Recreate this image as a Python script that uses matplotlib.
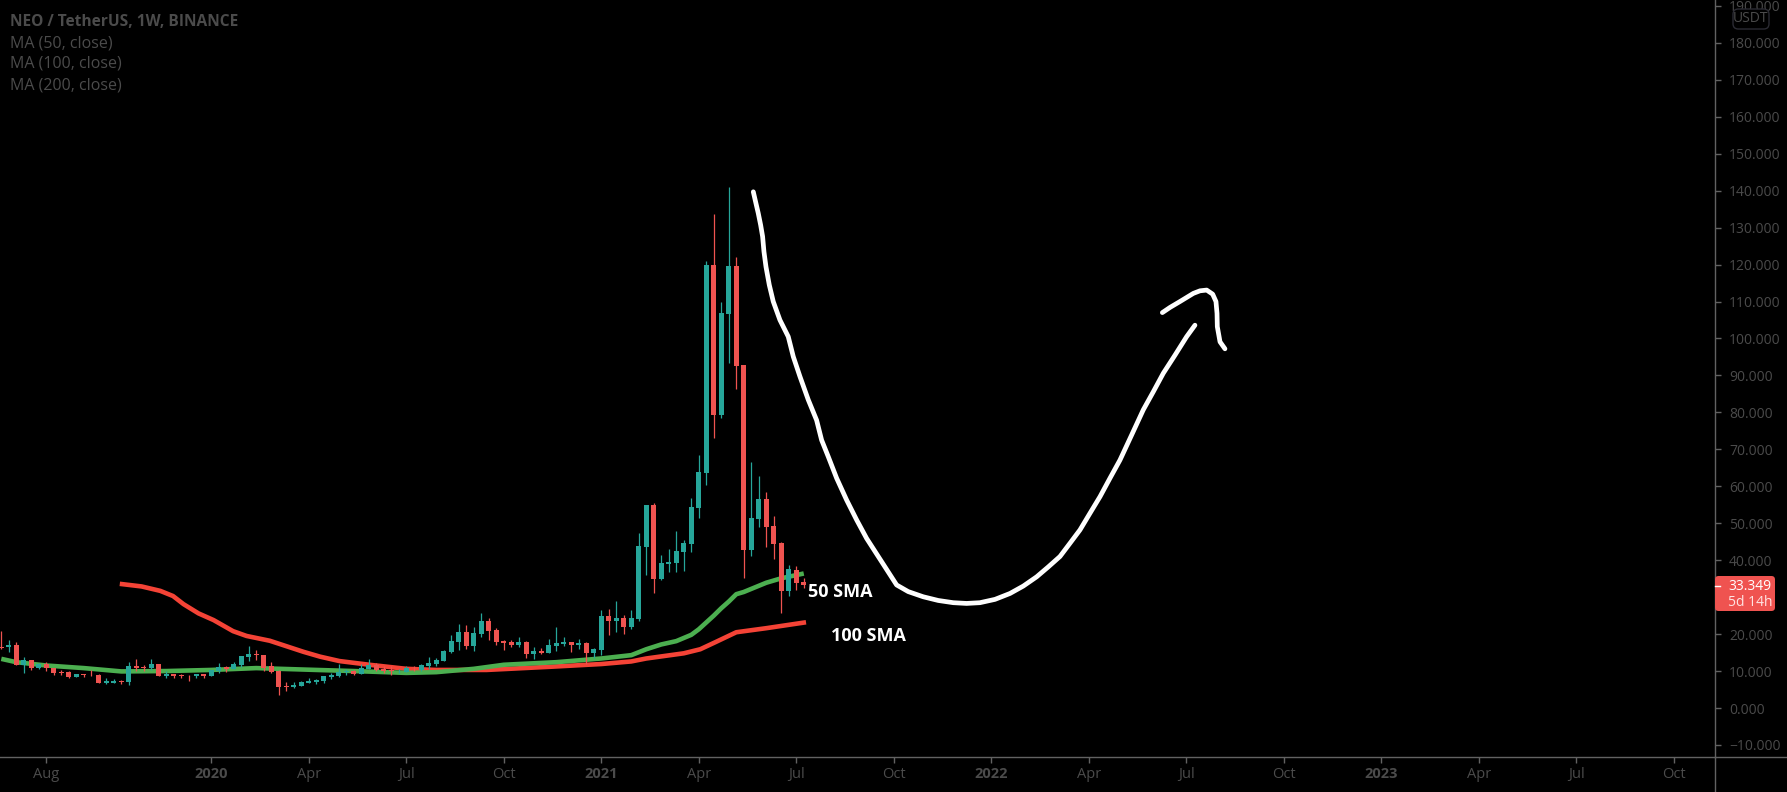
#!/usr/bin/env python3
"""Weekly NEO/USDT candles with two moving averages and a hand-drawn forecast."""
import matplotlib
matplotlib.use("Agg")
import matplotlib.pyplot as plt
import numpy as np
from matplotlib.lines import Line2D
from matplotlib.patches import FancyBboxPatch

# one entry per weekly candle
opens = [
    16.6, 16.5, 17.1, 11.7, 12.9, 10.8, 11.9, 10.9, 9.8, 9.7, 8.4, 9.1, 8.9, 8.9, 6.9, 6.9, 7.4, 7.0,
    11.4, 11.2, 10.8, 11.9, 8.7, 9.2, 9.0, 8.9, 8.7, 9.2, 8.7, 9.9, 11.1, 10.6, 11.6, 13.9, 14.7, 14.3,
    11.4, 10.0, 6.0, 5.7, 6.0, 6.9, 7.0, 7.3, 8.4, 8.7, 9.7, 10.0, 9.3, 10.6, 11.6, 10.6, 10.3, 9.9,
    9.8, 10.9, 10.3, 11.4, 11.9, 12.7, 15.2, 17.9, 20.6, 16.8, 20.0, 23.5, 21.1, 18.1, 17.9, 17.0, 17.9, 14.6,
    15.4, 14.9, 16.8, 17.3, 17.9, 17.0, 17.6, 14.9, 15.7, 24.9, 23.5, 24.4, 21.9, 24.1, 43.6, 54.9, 34.9, 39.0,
    39.2, 42.2, 44.4, 54.1, 63.6, 119.9, 79.3, 106.7, 119.6, 92.8, 42.8, 51.1, 56.6, 49.2, 44.6, 31.7, 37.3, 34.1,
]
highs = [
    20.8, 18.4, 17.9, 13.8, 12.9, 12.1, 12.4, 10.9, 10.3, 10.0, 9.1, 9.1, 10.3, 9.2, 8.0, 7.8, 7.7, 12.4,
    13.3, 11.6, 13.2, 11.9, 10.0, 9.2, 9.3, 8.9, 9.2, 9.2, 10.4, 12.2, 11.4, 12.4, 14.1, 16.8, 15.7, 14.3,
    12.4, 10.3, 7.0, 7.0, 7.3, 8.1, 7.9, 8.7, 9.4, 11.9, 10.6, 10.3, 11.9, 13.3, 12.2, 11.4, 11.4, 10.5,
    11.4, 11.4, 11.9, 13.8, 13.5, 15.7, 19.8, 22.7, 22.5, 21.9, 25.7, 24.4, 21.6, 18.4, 18.4, 19.2, 18.1, 16.5,
    16.2, 18.7, 21.9, 19.2, 17.9, 18.7, 17.9, 16.2, 26.5, 26.8, 29.0, 25.2, 26.5, 47.4, 54.9, 55.5, 41.4, 43.0,
    47.9, 45.5, 56.8, 68.5, 121.0, 133.7, 109.9, 141.0, 122.1, 92.8, 66.6, 62.8, 58.4, 52.0, 44.9, 38.7, 38.4, 35.2,
]
lows = [
    16.0, 15.2, 11.7, 9.6, 10.3, 10.6, 10.0, 9.0, 8.9, 8.1, 8.4, 8.4, 8.7, 6.7, 6.5, 6.7, 6.6, 6.2,
    9.9, 10.0, 10.2, 8.7, 8.2, 8.2, 8.2, 7.3, 8.1, 8.1, 8.7, 9.5, 9.8, 10.5, 11.1, 12.7, 13.0, 10.1,
    9.6, 3.5, 4.6, 5.4, 6.0, 6.7, 6.6, 6.9, 7.9, 8.4, 8.9, 8.9, 9.2, 10.5, 10.0, 9.6, 8.9, 9.4,
    9.7, 9.9, 9.9, 10.5, 11.5, 12.7, 14.9, 15.7, 16.0, 15.4, 19.2, 18.4, 17.0, 15.7, 16.5, 16.5, 13.5, 13.3,
    14.6, 14.8, 15.4, 16.8, 15.2, 16.1, 11.9, 13.5, 14.3, 19.8, 20.6, 20.0, 21.4, 23.5, 36.0, 31.1, 34.6, 36.8,
    36.8, 37.1, 42.2, 51.4, 60.3, 73.2, 78.6, 93.4, 86.4, 35.3, 41.1, 49.0, 43.6, 40.3, 25.7, 30.3, 31.9, 32.5,
]
closes = [
    16.3, 17.1, 11.7, 12.9, 10.8, 11.9, 10.9, 9.6, 9.6, 8.4, 9.1, 8.8, 8.8, 6.9, 7.2, 7.4, 7.1, 11.4,
    10.9, 10.9, 11.9, 8.7, 9.2, 8.7, 8.7, 8.8, 9.2, 8.7, 10.4, 11.0, 10.6, 11.9, 14.1, 14.6, 14.3, 10.8,
    9.7, 5.7, 5.7, 6.2, 7.0, 7.3, 7.7, 8.7, 8.9, 9.7, 10.1, 9.3, 10.8, 11.6, 10.3, 9.9, 10.0, 10.0,
    10.9, 10.7, 11.6, 12.2, 13.0, 15.4, 18.1, 20.6, 16.8, 20.3, 23.5, 20.8, 17.9, 17.6, 17.0, 17.9, 14.6, 15.4,
    14.9, 17.0, 17.6, 17.9, 17.0, 17.6, 14.9, 16.0, 24.9, 23.5, 24.4, 21.9, 24.4, 43.8, 54.9, 34.9, 39.2, 39.5,
    42.5, 44.6, 54.4, 63.9, 119.9, 79.3, 106.9, 119.6, 92.6, 42.8, 51.4, 56.6, 49.0, 44.4, 31.7, 37.6, 33.8, 33.3,
]

sma50_weeks = [0, 2, 6, 11, 16, 22, 28, 34, 42, 47, 54, 58, 63, 67, 74, 80, 84, 86, 88, 90, 92, 93, 95, 96, 97, 98, 99, 102, 104, 107]
sma50_vals = [13.3, 12.4, 11.5, 10.8, 9.9, 10.0, 10.3, 10.8, 10.3, 10.0, 9.5, 9.7, 10.6, 11.7, 12.4, 13.4, 14.3, 15.9, 17.2, 18.1, 19.8, 21.3, 25.0, 27.0, 28.8, 30.8, 31.4, 33.9, 35.1, 36.4]
sma100_weeks = [15.8, 18.7, 21.2, 22.9, 24.3, 26.3, 28.3, 30.9, 32.7, 35.8, 38.5, 40.3, 42.5, 45.1, 49.1, 54, 58, 64.7, 73.6, 80, 84, 86, 91, 93.2, 95.2, 98, 102, 107.3]
sma100_vals = [33.6, 32.9, 31.7, 30.3, 28.1, 25.6, 23.8, 20.8, 19.5, 18.2, 16.4, 15.2, 13.9, 12.7, 11.7, 10.6, 10.3, 10.3, 11.2, 11.9, 12.6, 13.4, 14.8, 15.9, 17.8, 20.5, 21.6, 23.2]

# the white hand-drawn forecast
path_weeks = [
    100.27, 100.62, 100.93, 101.25, 101.51, 101.69, 101.96, 102.4, 102.93, 103.82, 104.93, 105.6, 106.49, 107.6, 108.71,
    109.38, 110.27, 111.38, 112.71, 114.05, 115.38, 117.38, 119.38, 120.93, 122.93, 124.93, 126.93, 128.71, 130.49,
    132.5, 134.5, 136.27, 138.05, 139.61, 141.16, 142.5, 143.83, 145.16, 146.5, 147.83, 149.16, 150.72, 152.27, 153.61,
    154.94, 156.5, 158.05, 159.16,
]
path_vals = [
    139.7, 136.6, 133.9, 130.7, 127.6, 123.5, 119.4, 114.5, 110.0, 105.0, 100.5, 95.1, 89.7, 83.4, 77.9,
    72.5, 68.0, 62.2, 56.3, 50.9, 45.9, 39.6, 33.3, 31.5, 30.1, 29.1, 28.5, 28.3, 28.5,
    29.4, 31.0, 33.0, 35.5, 38.2, 41.0, 44.6, 48.2, 52.7, 57.2, 62.2, 67.1, 73.9, 80.7, 85.6,
    90.6, 95.5, 100.5, 103.6,
]
arrow_weeks = [154.81, 155.83, 157.16, 158.94, 159.83, 160.72, 161.52, 161.96, 162.1, 162.14, 162.5, 163.16]
arrow_vals = [107.0, 108.4, 110.0, 112.2, 112.9, 113.1, 112.0, 110.0, 106.8, 103.2, 99.1, 97.2]

x_tick_weeks = [6, 28, 41, 54, 67, 80, 93, 106, 119, 132, 145, 158, 171, 184, 197, 210, 223]
x_tick_labels = ["Aug", "2020", "Apr", "Jul", "Oct", "2021", "Apr", "Jul", "Oct", "2022", "Apr", "Jul", "Oct", "2023", "Apr", "Jul", "Oct"]
y_ticks = list(range(-10, 200, 10))
last_price = 33.349

W, H = 1787, 792
AXIS_X, AXIS_Y = 1715, 757
UP, DOWN = "#26a69a", "#ef5350"
TEXT = "#4b4b4b"
LINE = "#626262"

plt.rcParams["font.family"] = ["Open Sans", "DejaVu Sans"]

fig = plt.figure(figsize=(W / 100, H / 100), dpi=100, facecolor="black")
ax = fig.add_axes([0, 1 - AXIS_Y / H, AXIS_X / W, AXIS_Y / H], facecolor="black")
ax.set_xlim(-0.173, 228.5)
ax.set_ylim(-13.26, 191.6)

o, h, l, c = map(np.array, (opens, highs, lows, closes))
weeks = np.arange(len(o))
colors = np.where(c >= o, UP, DOWN)

ax.plot(sma100_weeks, sma100_vals, color="#f44336", lw=3.3, zorder=2, solid_capstyle="butt")
ax.plot(sma50_weeks, sma50_vals, color="#4caf50", lw=3.3, zorder=3, solid_capstyle="butt")
ax.vlines(weeks, l, h, colors=colors, lw=0.9, zorder=4)
ax.bar(weeks, np.abs(c - o), bottom=np.minimum(o, c), width=0.68, color=colors, lw=0, zorder=5)

ax.plot(path_weeks, path_vals, color="white", lw=3.4, zorder=6, solid_capstyle="round", solid_joinstyle="round")
ax.plot(arrow_weeks, arrow_vals, color="white", lw=3.4, zorder=6, solid_capstyle="round", solid_joinstyle="round")

ax.text(107.6, 31.4, "50 SMA", color="white", fontsize=13, fontweight="bold", va="center", zorder=7)
ax.text(110.6, 19.5, "100 SMA", color="white", fontsize=13, fontweight="bold", va="center", zorder=7)

for side in ("top", "left"):
    ax.spines[side].set_visible(False)
for side in ("right", "bottom"):
    ax.spines[side].set_color(LINE)
    ax.spines[side].set_linewidth(1)

ax.yaxis.tick_right()
ax.set_yticks(y_ticks)
# 30.000 sits under the last price box, so it never shows
ax.set_yticklabels(["" if v == 30 else f"{v:.3f}".replace("-", "\u2212") for v in y_ticks])
ax.tick_params(axis="y", colors=LINE, labelcolor=TEXT, length=4, width=1, pad=6, labelsize=10)
ax.set_xticks(x_tick_weeks)
ax.set_xticklabels(x_tick_labels)
ax.tick_params(axis="x", colors=LINE, labelcolor=TEXT, length=4, width=1, pad=3.5, labelsize=10.5)
for label in ax.get_xticklabels():
    if label.get_text().isdigit():
        label.set_fontweight("bold")

# axis lines carry on past the plot area to the edge of the picture
fig.add_artist(Line2D([AXIS_X / W, 1], [1 - AXIS_Y / H] * 2, color=LINE, lw=1))
fig.add_artist(Line2D([AXIS_X / W] * 2, [0, 1 - AXIS_Y / H], color=LINE, lw=1))

# legend block
ax.text(10 / AXIS_X, 1 - 22 / AXIS_Y, "NEO / TetherUS, 1W, BINANCE", transform=ax.transAxes, color=TEXT, fontsize=11.2, fontweight="bold", va="center")
for row, name in zip((43, 64, 85), ("MA (50, close)", "MA (100, close)", "MA (200, close)")):
    ax.text(10 / AXIS_X, 1 - row / AXIS_Y, name, transform=ax.transAxes, color=TEXT, fontsize=11.5, va="center")

# currency badge on the price scale
fig.add_artist(FancyBboxPatch((1733 / W, 1 - 29 / H), 36 / W, 20 / H, boxstyle="round,pad=0,rounding_size=0.003",
                              mutation_aspect=W / H, transform=fig.transFigure, fc="black", ec="#2b2b33", lw=1, zorder=8))
fig.text(1751 / W, 1 - 19 / H, "USDT", color=TEXT, fontsize=10, ha="center", va="center", zorder=9)

# last price box
fig.add_artist(FancyBboxPatch((AXIS_X / W, 1 - 611 / H), 60 / W, 35 / H, boxstyle="round,pad=0,rounding_size=0.002",
                              mutation_aspect=W / H, transform=fig.transFigure, fc=DOWN, ec="none", zorder=8))
fig.text(1728 / W, 1 - 587 / H, f"{last_price:.3f}", color="white", fontsize=10, fontweight="medium", va="center", zorder=9)
fig.text(1728 / W, 1 - 603 / H, "5d 14h", color="#ffe3e2", fontsize=10, va="center", zorder=9)
fig.add_artist(Line2D([AXIS_X / W, (AXIS_X + 5) / W], [1 - 586 / H] * 2, color="white", lw=1, zorder=9))

fig.savefig("out.png", dpi=100, facecolor="black")
